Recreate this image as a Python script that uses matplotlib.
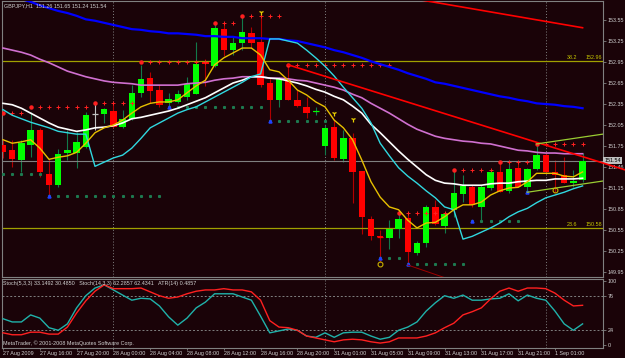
import numpy as np
import matplotlib
matplotlib.use('Agg')
import matplotlib.pyplot as plt

plt.rcParams['font.family'] = ['Liberation Sans', 'DejaVu Sans']

# --- GBPJPY H1 candles ---
opens = [151.77, 151.69, 151.55, 151.77, 151.98, 151.35, 151.19, 151.65, 151.65, 151.74,
         152.21, 152.21, 152.25, 152.02, 152.14, 152.51, 152.72, 152.55, 152.36, 152.38,
         152.45, 152.49, 152.95, 152.89, 153.42, 153.12, 153.22, 153.36, 153.24, 152.65,
         152.41, 152.71, 152.41, 152.31, 152.24, 151.75, 152.02, 151.57, 151.87, 151.39,
         150.71, 150.46, 150.44, 150.56, 150.72, 150.22, 150.36, 150.88, 150.61, 150.84,
         151.07, 151.17, 150.88, 151.15, 151.38, 151.11, 151.44, 151.17, 151.42, 151.62,
         151.38, 151.34, 151.22, 151.26]
highs = [151.84, 151.84, 151.84, 152.24, 152.01, 151.56, 151.71, 151.98, 151.95, 152.24,
         152.36, 152.29, 152.36, 152.26, 152.62, 152.91, 152.81, 152.62, 152.51, 152.55,
         152.74, 153.24, 152.99, 153.52, 153.51, 153.31, 153.62, 153.45, 153.65, 152.72,
         152.74, 152.91, 152.55, 152.45, 152.31, 152.05, 152.12, 151.98, 151.94, 151.39,
         150.75, 150.55, 150.69, 150.81, 150.81, 150.39, 150.91, 150.98, 150.81, 151.41,
         151.34, 151.19, 151.19, 151.41, 151.52, 151.52, 151.52, 151.44, 151.77, 151.65,
         151.55, 151.59, 151.41, 151.65]
lows = [151.58, 151.45, 151.38, 151.59, 151.31, 151.05, 151.17, 151.55, 151.44, 151.72,
        151.98, 152.08, 152.01, 152.01, 152.12, 152.45, 152.36, 152.31, 152.31, 152.36,
        152.41, 152.49, 152.61, 152.88, 153.04, 153.05, 153.12, 153.15, 152.59, 152.12,
        152.31, 152.41, 152.31, 152.15, 152.19, 151.62, 151.55, 151.52, 150.94, 150.49,
        150.41, 150.09, 150.28, 150.44, 150.08, 150.19, 150.31, 150.62, 150.51, 150.74,
        150.95, 150.88, 150.69, 151.12, 151.09, 151.08, 151.17, 151.09, 151.41, 151.37,
        151.09, 151.22, 151.17, 151.24]
closes = [151.67, 151.57, 151.79, 151.98, 151.38, 151.19, 151.64, 151.69, 151.81, 152.19,
          152.21, 152.28, 152.02, 152.14, 152.51, 152.71, 152.54, 152.34, 152.42, 152.49,
          152.64, 152.92, 152.92, 153.44, 153.12, 153.22, 153.38, 153.22, 152.62, 152.41,
          152.72, 152.41, 152.32, 152.22, 152.25, 152.01, 151.58, 151.87, 151.38, 150.74,
          150.46, 150.45, 150.56, 150.71, 150.24, 150.36, 150.88, 150.64, 150.78, 151.08,
          151.18, 150.91, 151.17, 151.38, 151.09, 151.42, 151.17, 151.42, 151.62, 151.38,
          151.34, 151.22, 151.25, 151.54]

# moving averages
maBlue = [153.95, 153.91, 153.85, 153.81, 153.76, 153.72, 153.68, 153.65, 153.61, 153.56,
          153.54, 153.51, 153.48, 153.45, 153.42, 153.41, 153.39, 153.38, 153.36, 153.36,
          153.35, 153.34, 153.32, 153.32, 153.31, 153.31, 153.29, 153.29, 153.29, 153.28,
          153.28, 153.26, 153.25, 153.22, 153.19, 153.16, 153.12, 153.09, 153.05, 153.01,
          152.96, 152.92, 152.88, 152.84, 152.79, 152.75, 152.71, 152.66, 152.64, 152.61,
          152.58, 152.55, 152.52, 152.49, 152.46, 152.44, 152.41, 152.39, 152.36, 152.35,
          152.34, 152.32, 152.31, 152.29]
maMagenta = [153.15, 153.12, 153.09, 153.05, 152.99, 152.94, 152.88, 152.82, 152.78, 152.74,
             152.71, 152.68, 152.66, 152.65, 152.64, 152.62, 152.62, 152.62, 152.62, 152.62,
             152.64, 152.65, 152.66, 152.69, 152.71, 152.72, 152.74, 152.74, 152.74, 152.72,
             152.72, 152.71, 152.69, 152.68, 152.65, 152.62, 152.59, 152.55, 152.49, 152.44,
             152.36, 152.29, 152.22, 152.14, 152.06, 151.99, 151.94, 151.89, 151.86, 151.84,
             151.82, 151.81, 151.79, 151.78, 151.75, 151.72, 151.69, 151.68, 151.66, 151.65,
             151.65, 151.64, 151.64, 151.64]
maWhite = [152.36, 152.34, 152.29, 152.22, 152.15, 152.08, 152.02, 151.99, 151.96, 151.98,
           152.01, 152.02, 152.04, 152.08, 152.14, 152.16, 152.19, 152.22, 152.25, 152.29,
           152.34, 152.39, 152.44, 152.51, 152.58, 152.65, 152.69, 152.74, 152.74, 152.72,
           152.71, 152.68, 152.65, 152.61, 152.56, 152.52, 152.46, 152.41, 152.32, 152.22,
           152.06, 151.94, 151.81, 151.68, 151.56, 151.45, 151.34, 151.26, 151.22, 151.21,
           151.19, 151.19, 151.19, 151.21, 151.22, 151.22, 151.24, 151.25, 151.26, 151.26,
           151.28, 151.28, 151.28, 151.29]
maCyan = [152.27, 152.19, 152.14, 152.09, 152.05, 152.01, 151.96, 151.94, 151.92, 151.92,
          151.46, 151.52, 151.58, 151.62, 151.72, 151.86, 152.01, 152.08, 152.15, 152.22,
          152.27, 152.31, 152.38, 152.45, 152.52, 152.59, 152.66, 152.74, 152.78, 153.28,
          153.28, 153.25, 153.22, 153.12, 153.01, 152.89, 152.75, 152.59, 152.44, 152.29,
          152.08, 151.79, 151.61, 151.44, 151.32, 151.22, 151.11, 151.01, 150.88, 150.84,
          150.42, 150.46, 150.52, 150.58, 150.65, 150.74, 150.81, 150.86, 150.94, 151.01,
          151.05, 151.09, 151.14, 151.18]
maYellow = [151.84, 151.79, 151.81, 151.84, 151.72, 151.56, 151.59, 151.61, 151.66, 151.79,
            151.94, 152.01, 152.05, 152.12, 152.22, 152.31, 152.36, 152.38, 152.38, 152.41,
            152.51, 152.61, 152.69, 152.91, 153.01, 153.08, 153.15, 153.15, 153.05, 152.84,
            152.81, 152.69, 152.55, 152.48, 152.38, 152.31, 152.12, 152.01, 151.84, 151.55,
            151.24, 151.02, 150.88, 150.84, 150.69, 150.58, 150.65, 150.66, 150.74, 150.84,
            150.91, 150.91, 150.95, 151.05, 151.11, 151.15, 151.16, 151.24, 151.36, 151.36,
            151.36, 151.32, 151.31, 151.38]

# stochastics (lower window)
stochFast = [41, 36, 36, 47, 42, 27, 23, 33, 58, 77, 89, 94, 86, 78, 70, 73, 72, 61, 44, 31,
             42, 58, 67, 80, 80, 80, 75, 70, 45, 19, 22, 25, 23, 14, 12, 19, 12, 19, 20, 20,
             14, 9, 12, 23, 28, 36, 53, 66, 77, 73, 78, 70, 70, 72, 73, 80, 69, 78, 73, 70,
             53, 33, 23, 33]
stochSlow = [19, 16, 16, 20, 20, 17, 17, 28, 50, 69, 84, 94, 88, 88, 88, 89, 83, 77, 73, 75,
             80, 84, 86, 86, 88, 86, 86, 83, 70, 38, 28, 27, 23, 14, 11, 8, 5, 8, 9, 8,
             5, 3, 5, 11, 11, 11, 14, 19, 27, 34, 47, 52, 58, 72, 84, 89, 84, 89, 89, 88,
             81, 70, 61, 62]

# fractal level rows (start bar, end bar, price)
resStart = [0, 3, 10, 15, 23, 26, 31, 43, 49, 54, 58]
resEnd = [2, 9, 14, 22, 25, 30, 42, 48, 53, 57, 63]
resPrice = [152.22, 152.31, 152.36, 152.95, 153.51, 153.61, 152.91, 150.79, 151.41, 151.52, 151.78]
supStart = [0, 5, 18, 29, 41, 44, 51, 57]
supEnd = [4, 17, 28, 35, 43, 50, 56, 57]
supPrice = [151.35, 151.04, 152.31, 152.11, 150.15, 150.06, 150.68, 151.09]

signalBars = [28, 36, 38]
signalPrices = [153.67, 152.22, 152.14]
ringBars = [41, 60]
ringPrices = [150.06, 151.12]

# trend lines
redX0 = [40, 31, 44]
redY0 = [153.96, 152.91, 150.05]
redX1 = [63, 67.6, 50]
redY1 = [153.44, 151.41, 149.78]
greenX0 = [57, 58]
greenY0 = [151.09, 151.78]
greenX1 = [65.2, 65.2]
greenY1 = [151.25, 151.92]

fibLevels = [152.96, 150.58]
fibNames = ['38.2', '23.6']
bidPrice = 151.54
dayBars = [12, 35, 59]

priceTicks = [153.55, 153.25, 152.95, 152.65, 152.35, 152.05, 151.75, 151.45,
              151.15, 150.85, 150.55, 150.25, 149.95]
priceLabels = ['153.55', '153.25', '152.95', '152.65', '152.35', '152.05', '151.75',
               '151.46', '151.15', '150.85', '150.55', '150.25', '149.95']
stochTicks = [100, 76, 24, 0]

dateBars = [0, 4, 8, 12, 16, 20, 24, 28, 32, 36, 40, 44, 48, 52, 56, 60]
dateLabels = ['27 Aug 2009', '27 Aug 16:00', '27 Aug 20:00', '28 Aug 00:00', '28 Aug 04:00',
              '28 Aug 08:00', '28 Aug 12:00', '28 Aug 16:00', '28 Aug 20:00', '31 Aug 01:00',
              '31 Aug 05:00', '31 Aug 09:00', '31 Aug 13:00', '31 Aug 17:00', '31 Aug 21:00',
              '1 Sep 01:00']

bg = '#1a0308'
grey = '#808080'
txt = '#d0d0d0'
fs = 3.9

W, H = 625, 358
fig = plt.figure(figsize=(W / 100, H / 100), dpi=100, facecolor=bg)


def rect(x0, y0, x1, y1):
    return [x0 / W, 1 - y1 / H, (x1 - x0) / W, (y1 - y0) / H]


ax = fig.add_axes(rect(2, 1, 603, 277), facecolor=bg)
ax2 = fig.add_axes(rect(2, 279, 603, 348), facecolor=bg)

for a in (ax, ax2):
    a.set_xlim(-0.11, 65.22)
    for s in a.spines.values():
        s.set_color(grey)
        s.set_linewidth(0.8)
    for b in dayBars:
        a.axvline(b, color=grey, ls=(0, (1, 2)), lw=0.7, zorder=1)

ax.set_ylim(149.879, 153.822)
ax2.set_ylim(-4.7, 103.1)

# --- candles ---
idx = np.arange(len(opens))
o = np.array(opens)
h = np.array(highs)
l = np.array(lows)
c = np.array(closes)
up = c > o
dn = c < o
flat = c == o
ax.vlines(idx[up], l[up], h[up], color='#127a4a', lw=0.8, zorder=2)
ax.vlines(idx[dn], l[dn], h[dn], color='#b00000', lw=0.8, zorder=2)
ax.vlines(idx[flat], l[flat], h[flat], color='#c0c0c0', lw=0.8, zorder=2)
ax.bar(idx[up], c[up] - o[up], bottom=o[up], width=0.7, color='#00ff00', zorder=3)
ax.bar(idx[dn], o[dn] - c[dn], bottom=c[dn], width=0.7, color='#ff0000', zorder=3)
thin = np.abs(c - o) < 0.02
thinCol = np.where(up, '#00ff00', np.where(dn, '#ff0000', '#c0c0c0'))
ax.hlines(c[thin], idx[thin] - 0.35, idx[thin] + 0.35, colors=thinCol[thin], lw=0.9, zorder=3)

# --- fractal rows ---
for s, e, p in zip(resStart, resEnd, resPrice):
    xs = np.arange(s, e + 1)
    ax.plot(xs[1:], [p] * (len(xs) - 1), ls='none', marker='+', ms=2.5, mew=0.7, color='#ff2020', zorder=4)
    ax.plot(xs[0], p, ls='none', marker='o', ms=2.2, color='#ff2020', zorder=4)
for k, (s, e, p) in enumerate(zip(supStart, supEnd, supPrice)):
    xs = np.arange(s, e + 1)
    ax.plot(xs, [p] * len(xs), ls='none', marker='s', ms=1.2, color='#1d7a50', zorder=4)
    if k > 0:
        ax.plot(xs[0], p, ls='none', marker='^', ms=2.2, color='#2040ff', zorder=4)

# --- levels ---
for lev, name in zip(fibLevels, fibNames):
    ax.axhline(lev, color='#a0a000', lw=0.9, zorder=2)
    ax.text(61.3, lev + 0.012, name, color='#c8c800', fontsize=fs, va='bottom', ha='left')
    ax.text(65.1, lev + 0.012, f'{lev:.2f}', color='#c8c800', fontsize=fs, va='bottom', ha='right')
ax.axhline(bidPrice, color=grey, lw=0.8, zorder=2)

# --- moving averages ---
ax.plot(idx, maBlue, color='#0000ff', lw=1.6, zorder=5)
ax.plot(idx, maMagenta, color='#d070d0', lw=1.2, zorder=5)
ax.plot(idx, maWhite, color='#ffffff', lw=1.2, zorder=5)
ax.plot(idx, maCyan, color='#30d8e0', lw=1.0, zorder=5)
ax.plot(idx, maYellow, color='#e8c000', lw=1.0, zorder=6)

# --- trend lines ---
for x0, y0, x1, y1 in zip(redX0, redY0, redX1, redY1):
    ax.plot([x0, x1], [y0, y1], color='#ff0000', lw=1.2, zorder=5, clip_on=(x1 < 66))
ax.lines[-1].set_color('#a00000')
ax.lines[-1].set_linewidth(0.7)
for x0, y0, x1, y1 in zip(greenX0, greenY0, greenX1, greenY1):
    ax.plot([x0, x1], [y0, y1], color='#9acd32', lw=0.9, zorder=5)

ax.plot(signalBars, signalPrices, ls='none', marker='1', ms=4, mew=0.9, color='#e8d000', zorder=6)
ax.plot(ringBars, ringPrices, ls='none', marker='o', ms=3.5, mfc='none', mew=0.8, color='#c8b000', zorder=6)

# --- axes / labels ---
ax.set_xticks([])
ax.set_yticks(priceTicks)
ax.set_yticklabels(priceLabels)
ax.yaxis.tick_right()
ax.tick_params(axis='y', length=2, width=0.6, color=grey, labelcolor=txt, labelsize=fs, pad=1.5)
ax.text(1.002, bidPrice, f'{bidPrice:.2f}', transform=ax.get_yaxis_transform(), ha='left', va='center',
        fontsize=fs, color='#000000', bbox=dict(boxstyle='square,pad=0.15', fc='#c0c0c0', ec='none'))
fig.text(4 / W, 1 - 6 / H, 'GBPJPY,H1  151.26 151.65 151.24 151.54', color=txt, fontsize=fs, va='center')

# --- stochastic window ---
ax2.plot(idx, stochFast, color='#20b2aa', lw=1.0, zorder=4)
ax2.plot(idx, stochSlow, color='#ff2020', lw=1.0, zorder=4)
for lev in (76, 24):
    ax2.axhline(lev, color=grey, ls=(0, (2, 2)), lw=0.7, zorder=1)
ax2.set_yticks(stochTicks)
ax2.set_yticklabels([str(t) for t in stochTicks])
ax2.yaxis.tick_right()
ax2.tick_params(axis='y', length=2, width=0.6, color=grey, labelcolor=txt, labelsize=fs, pad=1.5)
ax2.set_xticks(dateBars)
ax2.set_xticklabels(dateLabels, ha='left')
ax2.tick_params(axis='x', length=1.5, width=0.6, color=grey, labelcolor=txt, labelsize=fs, pad=0.8)
fig.text(3 / W, 1 - 284 / H, 'Stoch(5,3,3) 33.1492 30.4850   Stoch(14,3,3) 62.2857 62.4341   ATR(14) 0.4857',
         color=txt, fontsize=fs, va='center')
fig.text(3 / W, 1 - 343 / H, 'MetaTrader, \u00a9 2001-2008 MetaQuotes Software Corp.',
         color=txt, fontsize=fs, va='center')

fig.savefig('out.png', dpi=100, facecolor=bg)
